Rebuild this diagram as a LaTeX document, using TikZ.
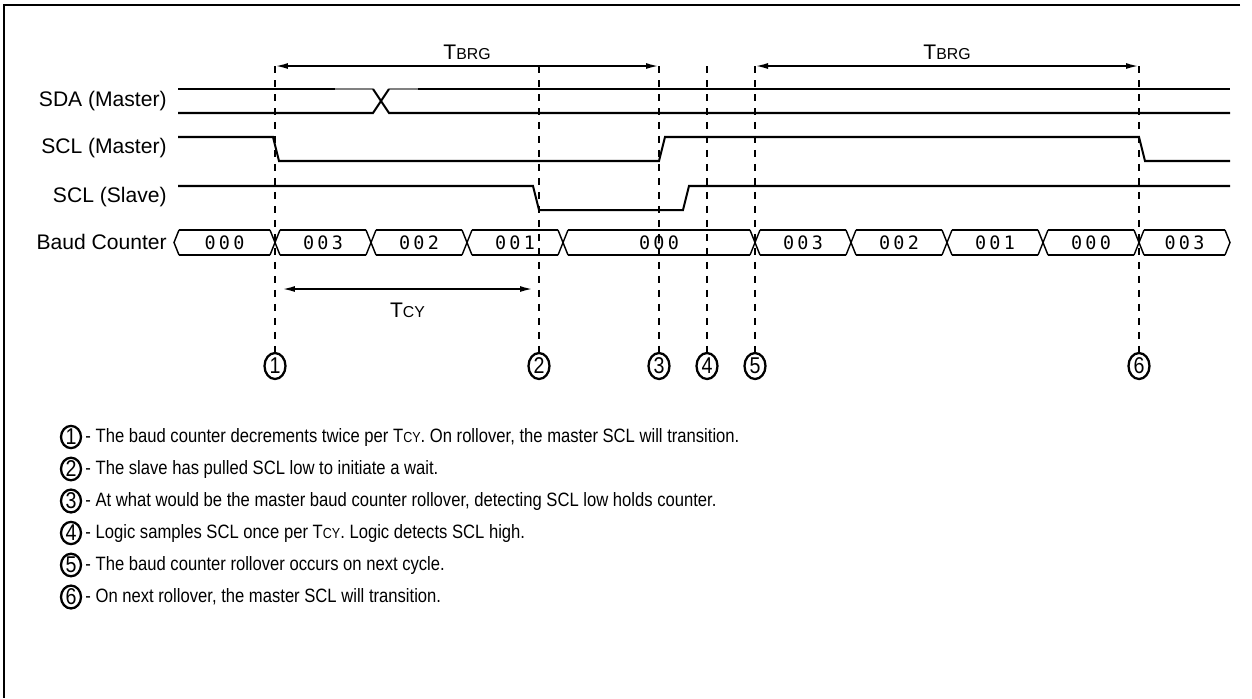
\documentclass[tikz,border=0pt]{standalone}
\usepackage{fontspec}
\setmainfont{Liberation Sans}
\newfontfamily\notefont[FakeStretch=0.86]{Liberation Sans}
\newfontfamily\busfont[LetterSpace=18]{DejaVu Sans Mono}
\usetikzlibrary{arrows.meta,positioning,shapes.geometric}
\newcommand{\tbig}[1]{T{\fontsize{9}{11}\selectfont #1}}
\newcommand{\tnote}[1]{T{\fontsize{8.3}{10}\selectfont #1}}
\tikzset{
  sig/.style={line width=1.15pt},
  bus/.style={line width=0.8pt},
  guide/.style={line width=1.4pt,dash pattern=on 0.14cm off 0.14cm},
  dim/.style={{Latex[length=2.6mm,width=1.2mm]}-{Latex[length=2.6mm,width=1.2mm]},line width=1.1pt},
  lab/.style={anchor=east,inner sep=0pt,font=\fontsize{12}{14}\selectfont},
  val/.style={inner sep=0pt,font=\busfont\fontsize{10.5}{12}\selectfont},
  num/.style={draw,ellipse,line width=1.3pt,inner sep=0pt,minimum width=0.42cm,minimum height=0.52cm,font=\notefont\fontsize{13}{14}\selectfont},
  note/.style={anchor=west,inner sep=0pt,font=\notefont\fontsize{11}{13}\selectfont},
}
\begin{document}
\begin{tikzpicture}[x=0.02cm,y=-0.02cm]
  \useasboundingbox (0,0) rectangle (1252,698);
  % frame, cut at right and bottom
  \draw[line width=1.15pt] (1240,5) -- (4,5) -- (4,698);
  % signal names
  \node[lab] (lsda) at (167,101) {SDA (Master)};
  \node[lab] (lsclm) at (167,148) {SCL (Master)};
  \node[lab] (lscls) at (167,197) {SCL (Slave)};
  \node[lab] (lbaud) at (167,242) {Baud Counter};
  % SDA (master)
  \draw[sig] (178,89) -- (335,89);
  \draw[sig,gray] (335,89) -- (373,89) (389,89) -- (418,89);
  \draw[sig] (178,113) -- (373,113) -- (389,89) (373,89) -- (389,113) -- (1230,113);
  \draw[sig] (418,89) -- (1230,89);
  % SCL (master)
  \draw[sig] (178,137) -- (273,137) -- (279,161) -- (659,161) -- (665,137) -- (1139,137) -- (1145,161) -- (1230,161);
  % SCL (slave)
  \draw[sig] (178,186) -- (533,186) -- (539,210) -- (683,210) -- (689,186) -- (1230,186);
  % baud counter
  \draw[bus] (179,230) -- (174,242.5) -- (179,255);
  \draw[bus] (1225,230) -- (1230,242.5) -- (1225,255);
  \foreach \t in {275,371,467,563,755,851,947,1043,1139}
    \draw[bus] (\t-5,230) -- (\t+5,255) (\t-5,255) -- (\t+5,230);
  \foreach \a/\b/\v [count=\i] in {174/275/000,275/371/003,371/467/002,467/563/001,563/755/000,755/851/003,851/947/002,947/1043/001,1043/1139/000,1139/1230/003} {
    \draw[bus] (\a+5,230) -- (\b-5,230) (\a+5,255) -- (\b-5,255);
    \node[val] (v\i) at ({(\a+\b)/2},242.5) {\v};
  }
  % event markers
  \foreach \x [count=\i] in {275,539,659,707,755,1139} {
    \node[num] (c\i) at (\x,366) {\i};
    \coordinate (d\i) at (\x,66);
    \draw[guide] (d\i) -- (c\i.north);
  }
  \draw[dim] (d1) -- node[above=0.1cm,inner sep=0pt,font=\fontsize{12}{14}\selectfont] (tbrg1) {\tbig{BRG}} (d3);
  \draw[dim] (d5) -- node[above=0.1cm,inner sep=0pt,font=\fontsize{12}{14}\selectfont] (tbrg2) {\tbig{BRG}} (d6);
  \coordinate (tcyl) at (282,289);
  \coordinate (tcyr) at (533,289);
  \draw[dim] (tcyl) -- node[below=0.26cm,inner sep=0pt,font=\fontsize{12}{14}\selectfont] (tcy) {\tbig{CY}} (tcyr);
  % notes
  \foreach \i/\txt in {1/{- The baud counter decrements twice per \tnote{CY}. On rollover, the master SCL will transition.},
    2/{- The slave has pulled SCL low to initiate a wait.},
    3/{- At what would be the master baud counter rollover, detecting SCL low holds counter.},
    4/{- Logic samples SCL once per \tnote{CY}. Logic detects SCL high.},
    5/{- The baud counter rollover occurs on next cycle.},
    6/{- On next rollover, the master SCL will transition.}} {
    \node[num,minimum width=0.4cm,minimum height=0.44cm] (n\i) at (71,{437+32*(\i-1)}) {\i};
    \node[note,right=0.06cm of n\i] (t\i) {\txt};
  }
\end{tikzpicture}
\end{document}
